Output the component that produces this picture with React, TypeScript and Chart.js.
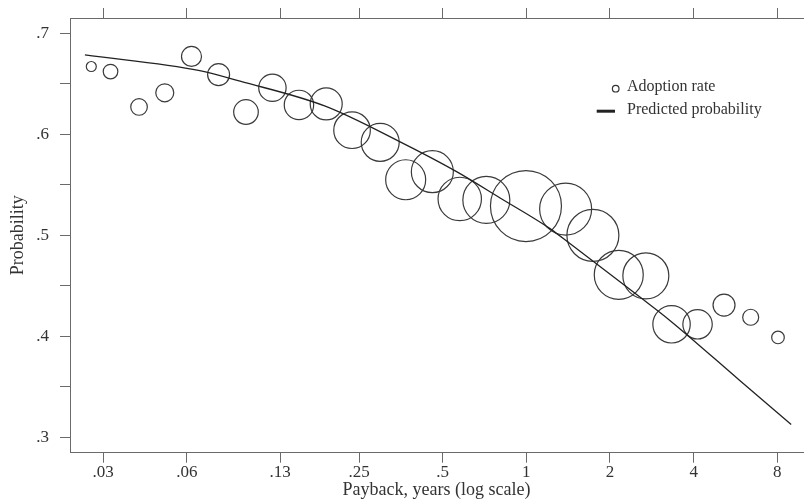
import React, { useEffect, useRef } from 'react';
import { Chart, registerables } from 'chart.js';

Chart.register(...registerables);

// Adoption rate observations (payback years, rate, bubble radius)
const payback = [0.0272, 0.0319, 0.0404, 0.05, 0.0624, 0.0781, 0.098, 0.122, 0.152, 0.1905, 0.236, 0.298, 0.368, 0.459, 0.576, 0.718, 0.997, 1.385, 1.736, 2.151, 2.692, 3.331, 4.132, 5.146, 6.418, 8.047];
const adoption = [0.667, 0.662, 0.627, 0.641, 0.677, 0.659, 0.622, 0.646, 0.629, 0.63, 0.604, 0.592, 0.555, 0.563, 0.536, 0.535, 0.529, 0.526, 0.5, 0.461, 0.46, 0.412, 0.412, 0.431, 0.419, 0.399];
const bubbleSize = [5, 7.3, 8.3, 9, 10, 11, 12.3, 13.7, 14.7, 16, 18.3, 19, 20, 21, 21.7, 23.5, 35.5, 26, 26, 24.5, 23, 18.7, 14.7, 11, 8, 6.3];

// Predicted probability curve
const predX = [0.0258, 0.0668, 0.0933, 0.188, 0.35, 0.561, 0.802, 1.213, 1.431, 2.556, 3.277, 5.848, 8.976];
const predY = [0.6785, 0.663, 0.6525, 0.628, 0.5927, 0.563, 0.5372, 0.5069, 0.4921, 0.4392, 0.4161, 0.3567, 0.3129];

const xTickValues = [0.03, 0.06, 0.13, 0.25, 0.5, 1, 2, 4, 8];
const xTickLabels = ['.03', '.06', '.13', '.25', '.5', '1', '2', '4', '8'];
const yTickValues = [0.3, 0.35, 0.4, 0.45, 0.5, 0.55, 0.6, 0.65, 0.7];
const yTickLabels = ['.3', '', '.4', '', '.5', '', '.6', '', '.7'];
const xRange = [0.0228, 9.9];
const yRange = [0.285, 0.715];

const xTitle = 'Payback, years (log scale)';
const yTitle = 'Probability';
const legendLabels = ['Adoption rate', 'Predicted probability'];

const FONT = "'Liberation Serif', 'Times New Roman', serif";
const INK = '#333333';
const AXIS = '#6a6a6a';

const annotate = {
  id: 'annotate',
  afterDraw(chart: any) {
    const { ctx, chartArea } = chart;
    ctx.save();
    ctx.fillStyle = INK;
    ctx.font = `18px ${FONT}`;
    ctx.textAlign = 'center';
    ctx.textBaseline = 'middle';
    ctx.fillText(xTitle, (chartArea.left + chartArea.right) / 2, 490);
    ctx.save();
    ctx.translate(18.3, (chartArea.top + chartArea.bottom) / 2);
    ctx.rotate(-Math.PI / 2);
    ctx.fillText(yTitle, 0, 0);
    ctx.restore();

    // legend
    ctx.font = `16px ${FONT}`;
    ctx.textAlign = 'left';
    ctx.fillText(legendLabels[0], 627, 86.5);
    ctx.fillText(legendLabels[1], 627, 109.8);
    ctx.strokeStyle = INK;
    ctx.lineWidth = 1.2;
    ctx.beginPath();
    ctx.arc(615.7, 88.7, 3.3, 0, Math.PI * 2);
    ctx.stroke();
    ctx.lineWidth = 3;
    ctx.strokeStyle = '#222';
    ctx.beginPath();
    ctx.moveTo(596.7, 111.2);
    ctx.lineTo(615, 111.2);
    ctx.stroke();
    ctx.restore();
  },
};

const noPad = (s: any) => {
  s.paddingTop = 0;
  s.paddingBottom = 0;
  s.paddingLeft = 0;
  s.paddingRight = 0;
};

export default function App() {
  const ref = useRef<HTMLCanvasElement | null>(null);

  useEffect(() => {
    if (!ref.current) return;
    const bubbles = payback.map((x, i) => ({ x, y: adoption[i], r: bubbleSize[i] }));
    const curve = predX.map((x, i) => ({ x, y: predY[i] }));

    const gridCfg = {
      drawOnChartArea: false,
      drawTicks: true,
      tickLength: 10,
      color: AXIS,
      lineWidth: 1,
    };
    const borderCfg = { display: true, color: AXIS, width: 1 };

    const chart = new Chart(ref.current, {
      type: 'bubble',
      data: {
        datasets: [
          {
            type: 'line',
            label: legendLabels[1],
            data: curve,
            borderColor: '#222',
            borderWidth: 1.3,
            pointRadius: 0,
            fill: false,
            cubicInterpolationMode: 'monotone',
            xAxisID: 'x',
            yAxisID: 'y',
          } as any,
          {
            type: 'bubble',
            label: legendLabels[0],
            data: bubbles,
            backgroundColor: 'rgba(0,0,0,0)',
            borderColor: '#3a3a3a',
            borderWidth: 1.2,
            clip: false,
            xAxisID: 'x',
            yAxisID: 'y',
          } as any,
        ],
      },
      options: {
        responsive: false,
        animation: false,
        events: [],
        layout: { autoPadding: false, padding: { left: 0, right: 1, top: 0, bottom: 0 } },
        plugins: {
          legend: { display: false },
          tooltip: { enabled: false },
          title: { display: false },
        },
        scales: {
          x: {
            type: 'logarithmic',
            position: 'bottom',
            min: xRange[0],
            max: xRange[1],
            grid: gridCfg,
            border: borderCfg,
            afterBuildTicks: (s: any) => {
              s.ticks = xTickValues.map((v) => ({ value: v }));
            },
            afterFit: (s: any) => {
              s.height = 49.3;
              noPad(s);
            },
            ticks: {
              autoSkip: false,
              maxRotation: 0,
              padding: 0,
              color: INK,
              font: { family: FONT, size: 17 },
              callback: (_v: any, i: number) => xTickLabels[i],
            },
          },
          x2: {
            type: 'logarithmic',
            position: 'top',
            min: xRange[0],
            max: xRange[1],
            grid: gridCfg,
            border: borderCfg,
            afterBuildTicks: (s: any) => {
              s.ticks = xTickValues.map((v) => ({ value: v }));
            },
            afterFit: (s: any) => {
              s.height = 18;
              noPad(s);
            },
            ticks: { display: false, autoSkip: false },
          },
          y: {
            type: 'linear',
            position: 'left',
            min: yRange[0],
            max: yRange[1],
            grid: gridCfg,
            border: borderCfg,
            afterBuildTicks: (s: any) => {
              s.ticks = yTickValues.map((v) => ({ value: v }));
            },
            afterFit: (s: any) => {
              s.width = 70;
              noPad(s);
            },
            ticks: {
              autoSkip: false,
              padding: 11,
              color: INK,
              font: { family: FONT, size: 17 },
              callback: (_v: any, i: number) => yTickLabels[i],
            },
          },
        },
      } as any,
      plugins: [annotate],
    });
    return () => chart.destroy();
  }, []);

  return (
    <div style={{ position: 'fixed', left: 0, top: 0, width: 804, height: 502, background: '#fff' }}>
      <canvas ref={ref} width={804} height={502} style={{ display: 'block', width: 804, height: 502 }} />
    </div>
  );
}
